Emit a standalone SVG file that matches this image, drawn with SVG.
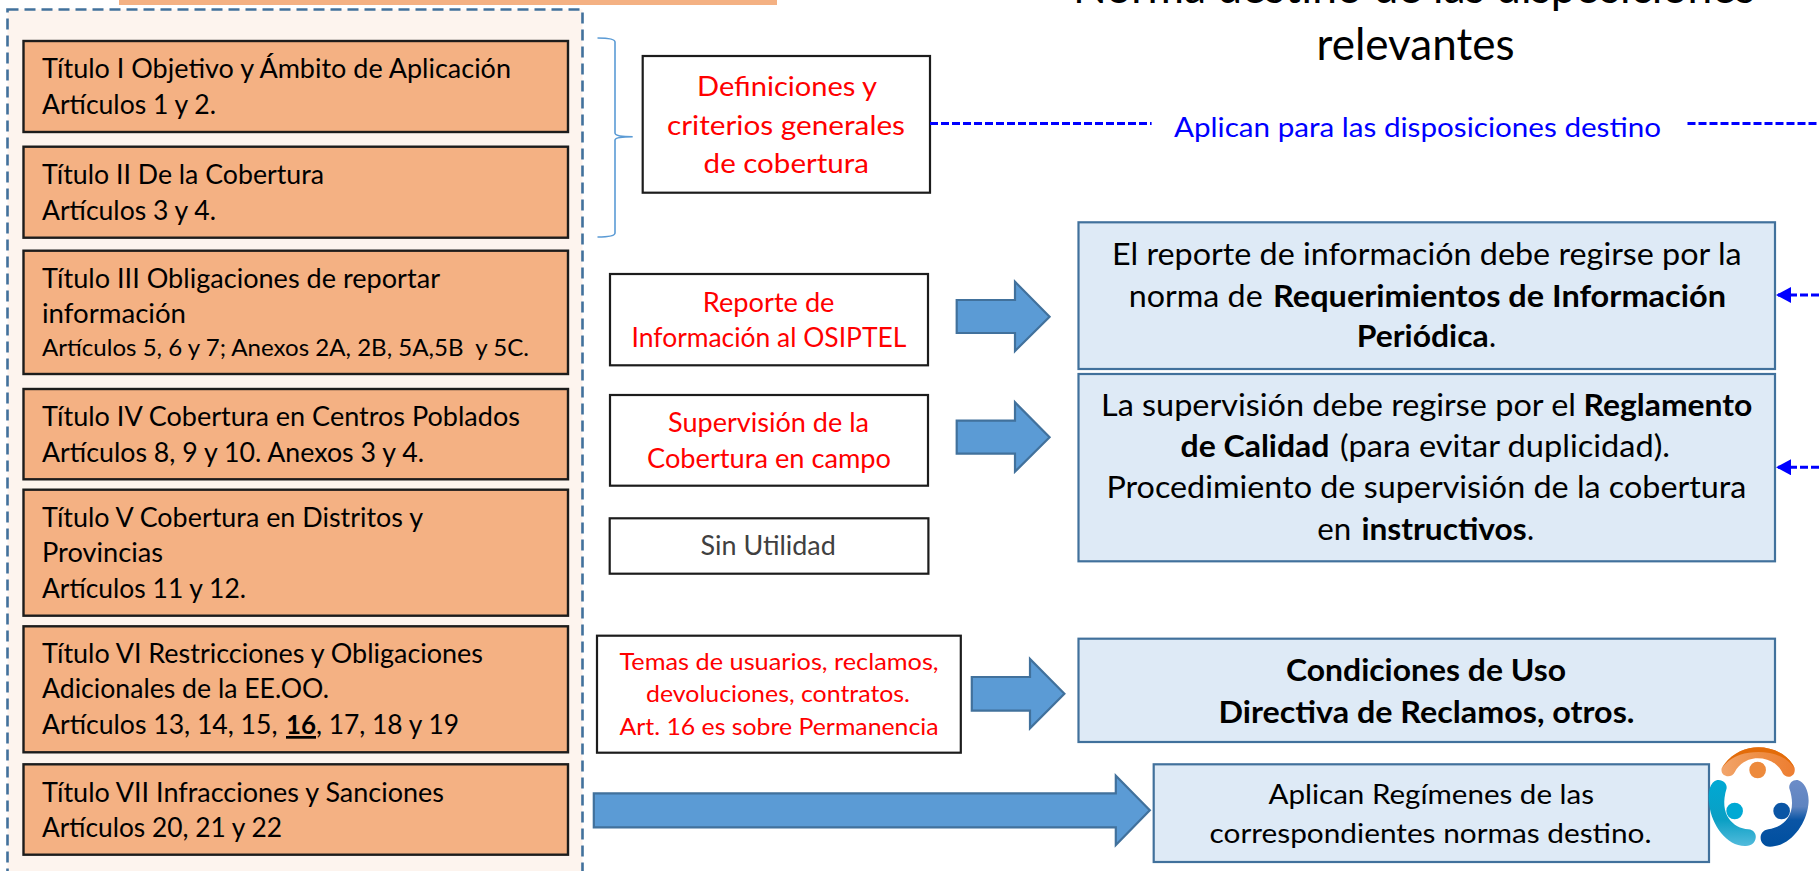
<svg xmlns="http://www.w3.org/2000/svg" width="1819" height="871" viewBox="0 0 1819 871">
<style>
text{font-family:Lato,"Open Sans","Liberation Sans",sans-serif;white-space:pre}
.o{fill:#f4b183;stroke:#1c1c1c;stroke-width:2.4}
.w{fill:#fff;stroke:#1c1c1c;stroke-width:2.2}
.b{fill:#deeaf6;stroke:#41719c;stroke-width:2.2}
.t{font-size:27px;fill:#000}
.s{font-size:24px;fill:#000}
.r{font-size:27px;fill:#f00}
.r2{font-size:26px;fill:#f00}
.r3{font-size:24px;fill:#f00}
.k{font-size:30px;fill:#000}
.k2{font-size:27px;fill:#000}
.h{font-weight:700}
.ar{fill:#5b9bd5;stroke:#41719c;stroke-width:2.2}
.d{fill:none;stroke:#00f;stroke-width:3;stroke-dasharray:8 3}
</style>
<defs>
<marker id="ah" markerUnits="userSpaceOnUse" markerWidth="15" markerHeight="16" refX="15" refY="8" orient="auto"><path d="M15,8L0,0V16Z" fill="#00f"/></marker>
<linearGradient id="go" x1="0" x2="1" y1="0" y2="0"><stop offset="0" stop-color="#f2a56c"/><stop offset=".5" stop-color="#ee8f46"/><stop offset="1" stop-color="#ed7d31"/></linearGradient>
<linearGradient id="gt" x1="0" x2="0" y1="0" y2="1"><stop offset="0" stop-color="#e36c09"/><stop offset=".35" stop-color="#e36c09" stop-opacity="0"/></linearGradient>
<linearGradient id="gl" x1="0" x2="0" y1="0" y2="1"><stop offset="0" stop-color="#00a9d4"/><stop offset=".6" stop-color="#0a9fc4"/><stop offset="1" stop-color="#52bbdc"/></linearGradient>
<linearGradient id="gr" x1="0" x2="0" y1="0" y2="1"><stop offset="0" stop-color="#6c8cc8"/><stop offset=".4" stop-color="#5f84c0"/><stop offset=".6" stop-color="#0a55a5"/><stop offset="1" stop-color="#004f9f"/></linearGradient>
</defs>
<rect width="1819" height="871" fill="#fff"/>
<rect id="top-bar" x="119" y="-4" width="658" height="9" fill="#f4b183"/>
<rect id="container" x="7.5" y="9.5" width="575" height="880" fill="#fdf4ee" stroke="#41719c" stroke-width="2.6" stroke-dasharray="11 6"/>

<g id="title">
<text x="1414" y="3" font-size="45" text-anchor="middle" textLength="682" lengthAdjust="spacingAndGlyphs">Norma destino de las disposiciones</text>
<text x="1415.5" y="60" font-size="45" text-anchor="middle" textLength="198" lengthAdjust="spacingAndGlyphs">relevantes</text>
</g>

<g id="titulo-1"><rect class="o" x="23.5" y="41" width="544.5" height="91"/>
<text class="t" x="42" y="78" textLength="469" lengthAdjust="spacingAndGlyphs">Título I Objetivo y Ámbito de Aplicación</text>
<text class="t" x="42" y="114" textLength="174" lengthAdjust="spacingAndGlyphs">Artículos 1 y 2.</text></g>
<g id="titulo-2"><rect class="o" x="23.5" y="146.7" width="544.5" height="91"/>
<text class="t" x="42" y="184" textLength="282" lengthAdjust="spacingAndGlyphs">Título II De la Cobertura</text>
<text class="t" x="42" y="220" textLength="174" lengthAdjust="spacingAndGlyphs">Artículos 3 y 4.</text></g>
<g id="titulo-3"><rect class="o" x="23.5" y="250.7" width="544.5" height="123.3"/>
<text class="t" x="42" y="288" textLength="398" lengthAdjust="spacingAndGlyphs">Título III Obligaciones de reportar</text>
<text class="t" x="42" y="323" textLength="144" lengthAdjust="spacingAndGlyphs">información</text>
<text class="s" x="42" y="356" textLength="487" lengthAdjust="spacingAndGlyphs">Artículos 5, 6 y 7; Anexos 2A, 2B, 5A,5B  y 5C.</text></g>
<g id="titulo-4"><rect class="o" x="23.5" y="389" width="544.5" height="90.3"/>
<text class="t" x="42" y="426" textLength="478" lengthAdjust="spacingAndGlyphs">Título IV Cobertura en Centros Poblados</text>
<text class="t" x="42" y="462" textLength="382" lengthAdjust="spacingAndGlyphs">Artículos 8, 9 y 10. Anexos 3 y 4.</text></g>
<g id="titulo-5"><rect class="o" x="23.5" y="489.7" width="544.5" height="126"/>
<text class="t" x="42" y="527" textLength="381" lengthAdjust="spacingAndGlyphs">Título V Cobertura en Distritos y</text>
<text class="t" x="42" y="562" textLength="121" lengthAdjust="spacingAndGlyphs">Provincias</text>
<text class="t" x="42" y="598" textLength="204" lengthAdjust="spacingAndGlyphs">Artículos 11 y 12.</text></g>
<g id="titulo-6"><rect class="o" x="23.5" y="626.3" width="544.5" height="126"/>
<text class="t" x="42" y="663" textLength="441" lengthAdjust="spacingAndGlyphs">Título VI Restricciones y Obligaciones</text>
<text class="t" x="42" y="698" textLength="287" lengthAdjust="spacingAndGlyphs">Adicionales de la EE.OO.</text>
<text class="t" y="734"><tspan x="42" textLength="235.5" lengthAdjust="spacingAndGlyphs">Artículos 13, 14, 15,</tspan> <tspan x="286" class="h" text-decoration="underline" textLength="30" lengthAdjust="spacingAndGlyphs">16</tspan><tspan x="316" textLength="143" lengthAdjust="spacingAndGlyphs">, 17, 18 y 19</tspan></text></g>
<g id="titulo-7"><rect class="o" x="23.5" y="764.3" width="544.5" height="90.4"/>
<text class="t" x="42" y="802" textLength="402" lengthAdjust="spacingAndGlyphs">Título VII Infracciones y Sanciones</text>
<text class="t" x="42" y="837" textLength="240" lengthAdjust="spacingAndGlyphs">Artículos 20, 21 y 22</text></g>

<g id="definiciones"><rect class="w" x="642.7" y="56" width="287.3" height="136.7"/>
<text class="r" x="697" y="95.7" textLength="180" lengthAdjust="spacingAndGlyphs">Definiciones y</text>
<text class="r" x="667" y="135" textLength="238" lengthAdjust="spacingAndGlyphs">criterios generales</text>
<text class="r" x="703.6" y="173" textLength="165.4" lengthAdjust="spacingAndGlyphs">de cobertura</text></g>
<g id="reporte"><rect class="w" x="610" y="274" width="318" height="91.3"/>
<text class="r2" x="702.8" y="311.7" textLength="131.7" lengthAdjust="spacingAndGlyphs">Reporte de</text>
<text class="r2" x="631.6" y="346.7" textLength="274.8" lengthAdjust="spacingAndGlyphs">Información al OSIPTEL</text></g>
<g id="supervision"><rect class="w" x="610" y="395" width="318" height="90.7"/>
<text class="r2" x="668" y="432" textLength="201" lengthAdjust="spacingAndGlyphs">Supervisión de la</text>
<text class="r2" x="647" y="467.5" textLength="244" lengthAdjust="spacingAndGlyphs">Cobertura en campo</text></g>
<g id="sin-utilidad"><rect class="w" x="609.7" y="518.3" width="318.7" height="55.4"/>
<text x="700.6" y="555" font-size="26" fill="#404040" textLength="135.2" lengthAdjust="spacingAndGlyphs">Sin Utilidad</text></g>
<g id="temas"><rect class="w" x="597" y="635.7" width="363.8" height="117"/>
<text class="r3" x="619.5" y="670" textLength="319.1" lengthAdjust="spacingAndGlyphs">Temas de usuarios, reclamos,</text>
<text class="r3" x="646" y="702" textLength="264" lengthAdjust="spacingAndGlyphs">devoluciones, contratos.</text>
<text class="r3" x="619.5" y="735" textLength="319.1" lengthAdjust="spacingAndGlyphs">Art. 16 es sobre Permanencia</text></g>

<g id="connectors">
<path id="brace" d="M597.5,38 Q615,38 615,42 V133 Q615,136.7 632.7,136.7 Q615,136.7 615,140 V233 Q615,237 597.5,237" fill="none" stroke="#5b9bd5" stroke-width="1.6"/>
<path class="d" d="M930,123.5H1151.6"/>
<path class="d" d="M1687.5,123.5H1819"/>
<path class="d" d="M1819,295H1776" marker-end="url(#ah)"/>
<path class="d" d="M1819,467.3H1776" marker-end="url(#ah)"/>
<path class="ar" d="M956.7,300H1015V281.7L1049.6,316.7L1015,351V333H956.7Z"/>
<path class="ar" d="M956.7,420.6H1015V402.3L1049.6,437.3L1015,471.6V453.6H956.7Z"/>
<path class="ar" d="M971.8,677H1030V659L1064.4,693.7L1030,728.3V710.7H971.8Z"/>
<path class="ar" d="M593.8,793.3H1115.8V775.7L1149.8,810.3L1115.8,845V827.3H593.8Z"/>
</g>
<g id="aplican-label"><text x="1174" y="136.7" font-size="27" fill="#00f" textLength="487" lengthAdjust="spacingAndGlyphs">Aplican para las disposiciones destino</text></g>

<g id="destino-reporte"><rect class="b" x="1078.5" y="222.3" width="696.5" height="146.7"/>
<text class="k" x="1112" y="265" textLength="629.6" lengthAdjust="spacingAndGlyphs">El reporte de información debe regirse por la</text>
<text class="k" y="306.7"><tspan x="1128.7" textLength="134" lengthAdjust="spacingAndGlyphs">norma de</tspan> <tspan x="1273" class="h" textLength="453" lengthAdjust="spacingAndGlyphs">Requerimientos de Información</tspan></text>
<text class="k" y="347"><tspan x="1356.7" class="h" textLength="132" lengthAdjust="spacingAndGlyphs">Periódica</tspan><tspan x="1489">.</tspan></text></g>
<g id="destino-supervision"><rect class="b" x="1078.5" y="374" width="696.5" height="187.3"/>
<text class="k" y="415.7"><tspan x="1101" textLength="475" lengthAdjust="spacingAndGlyphs">La supervisión debe regirse por el</tspan> <tspan x="1583.6" class="h" textLength="168.7" lengthAdjust="spacingAndGlyphs">Reglamento</tspan></text>
<text class="k" y="457"><tspan x="1180.5" class="h" textLength="149" lengthAdjust="spacingAndGlyphs">de Calidad</tspan> <tspan x="1340" textLength="330" lengthAdjust="spacingAndGlyphs">(para evitar duplicidad).</tspan></text>
<text class="k" x="1106.4" y="498" textLength="640" lengthAdjust="spacingAndGlyphs">Procedimiento de supervisión de la cobertura</text>
<text class="k" y="540"><tspan x="1317.3" textLength="34" lengthAdjust="spacingAndGlyphs">en</tspan> <tspan x="1361.4" class="h" textLength="165.3" lengthAdjust="spacingAndGlyphs">instructivos</tspan><tspan x="1527">.</tspan></text></g>
<g id="destino-condiciones"><rect class="b" x="1078.5" y="638.7" width="696.5" height="103.3"/>
<text class="k h" x="1286" y="681" textLength="280" lengthAdjust="spacingAndGlyphs">Condiciones de Uso</text>
<text class="k h" x="1218.5" y="722.7" textLength="416" lengthAdjust="spacingAndGlyphs">Directiva de Reclamos, otros.</text></g>
<g id="destino-regimenes"><rect class="b" x="1153.7" y="764.3" width="555.3" height="97.7"/>
<text class="k2" x="1268.5" y="804" textLength="325.5" lengthAdjust="spacingAndGlyphs">Aplican Regímenes de las</text>
<text class="k2" x="1209.6" y="842.7" textLength="441.9" lengthAdjust="spacingAndGlyphs">correspondientes normas destino.</text></g>

<g id="logo" transform="translate(1500,720) scale(.3333)">
<path d="M665,145C690,102 735,82 775,82C820,82 868,105 884,145C888,172 858,178 848,160C835,130 805,115 773,115C740,115 715,135 705,155C695,178 660,170 665,145Z" fill="url(#go)"/>
<path d="M665,145C690,102 735,82 775,82C820,82 868,105 884,145C860,110 820,96 775,96C730,96 690,110 665,145Z" fill="#e36c09"/>
<circle cx="773" cy="150" r="25" fill="#ed8a3c"/>
<path d="M652,180C630,185 622,215 628,255C635,315 680,378 735,378C775,380 778,330 745,328C700,325 655,285 680,205C682,190 668,178 652,180Z" fill="url(#gl)"/>
<circle cx="704" cy="273" r="25" fill="#00a9d4"/>
<path d="M893,180C915,185 930,220 925,255C918,315 870,380 810,380C775,380 772,332 805,328C850,322 895,285 868,205C866,190 878,178 893,180Z" fill="url(#gr)"/>
<circle cx="845" cy="273" r="25" fill="#0a55a5"/>
</g>
</svg>
